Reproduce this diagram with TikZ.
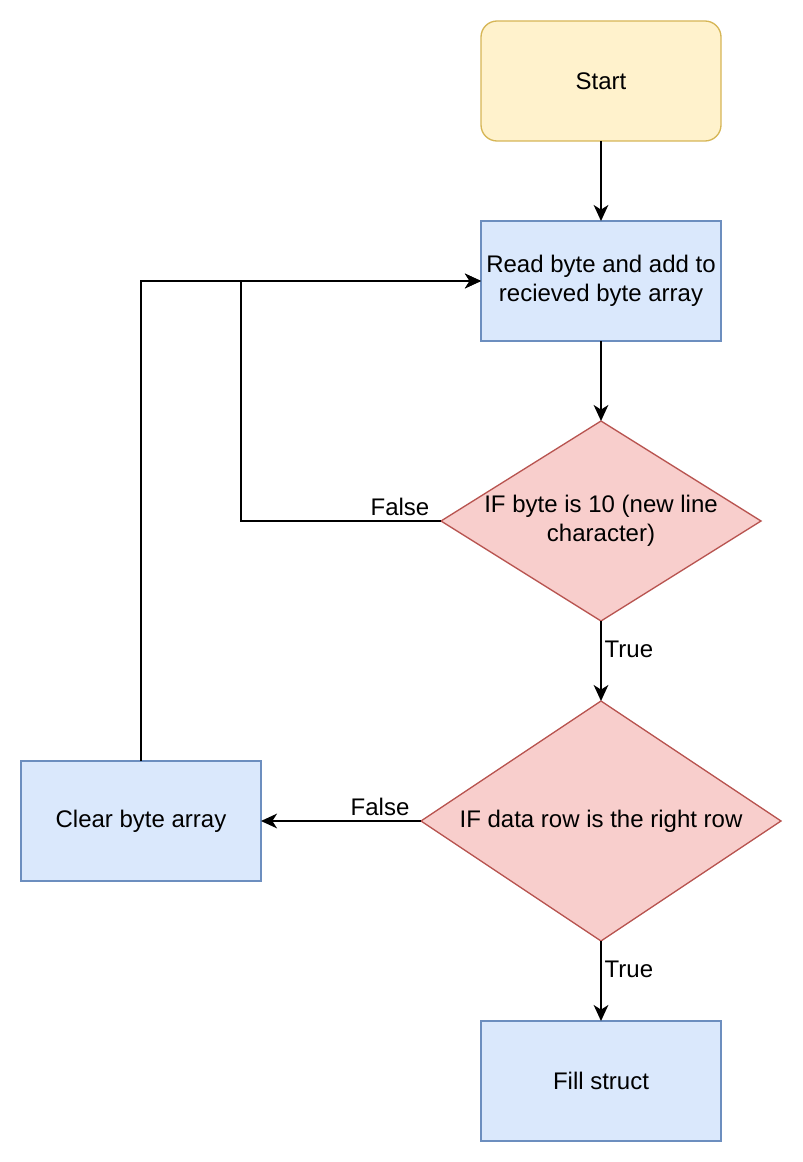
\documentclass[tikz,border=0pt]{standalone}
\usepackage{fontspec}
\setmainfont{Liberation Sans}
\usetikzlibrary{arrows.meta,positioning,shapes.geometric}
\definecolor{startfill}{HTML}{FFF2CC}
\definecolor{startline}{HTML}{D6B656}
\definecolor{boxfill}{HTML}{DAE8FC}
\definecolor{boxline}{HTML}{6C8EBF}
\definecolor{decfill}{HTML}{F8CECC}
\definecolor{decline}{HTML}{B85450}

\begin{document}
\begin{tikzpicture}[->,>={Stealth[length=12pt,width=11pt,inset=3.5pt]},line width=1.5pt,
  x=0.75pt,y=-0.75pt,node distance=60pt,font=\fontsize{18}{21.6}\selectfont,
  box/.style={rectangle,draw=boxline,fill=boxfill,line width=1pt,outer sep=0pt,minimum width=180pt,minimum height=90pt,align=center,inner sep=1pt},
  startbox/.style={box,draw=startline,fill=startfill,rounded corners=12pt},
  dec/.style={diamond,draw=decline,fill=decfill,line width=1pt,outer sep=0pt,inner sep=0pt},
  dtext/.style={align=center,inner sep=0pt},
  flbl/.style={above,inner sep=3pt},
  tlbl/.style={anchor=west,inner sep=2pt}]
  \useasboundingbox (0,0) rectangle (802,1162);
  \node[startbox] (S) at (601,81) {Start};
  \node[box] (R) [below=of S] {Read byte and add to\\recieved byte array};
  \node[dec,minimum width=240pt,minimum height=150pt,
    label={[dtext]center:IF byte is 10 (new line\\character)}] (D1) [below=of R] {};
  \node[dec,minimum width=270pt,minimum height=180pt,
    label={[dtext]center:IF data row is the right row}] (D2) [below=of D1] {};
  \node[box] (F) [below=of D2] {Fill struct};
  \node[box] (C) [left=120pt of D2] {Clear byte array};
  %
  \path (S) edge (R)
        (R) edge (D1)
        (D1) edge node[tlbl,pos=0.36] {True} (D2)
        (D2) edge node[tlbl,pos=0.36] {True} (F)
        (D2) edge node[flbl,pos=0.256] {False} (C);
  \draw (D1.west) -- node[flbl,pos=0.205] {False} ++(-200,0) |- (R.west);
  \draw (C.north) |- (R.west);
\end{tikzpicture}
\end{document}
